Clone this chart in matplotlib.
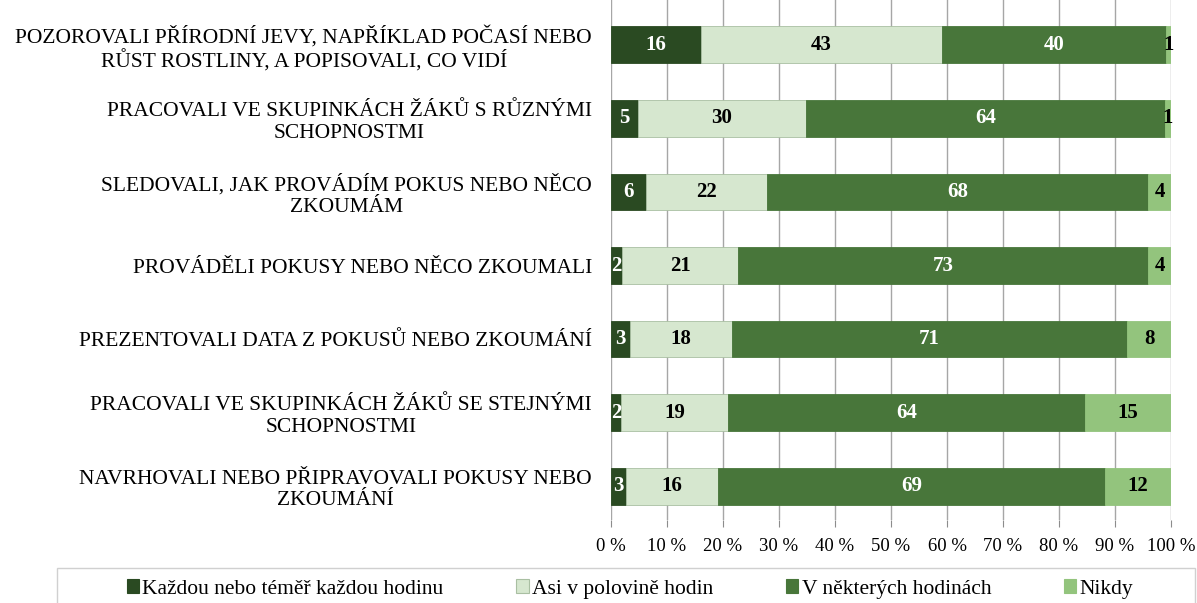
import matplotlib
matplotlib.use("Agg")
import matplotlib.pyplot as plt
from matplotlib.patches import Rectangle
import numpy as np

categories = [
    "POZOROVALI PŘÍRODNÍ JEVY, NAPŘÍKLAD POČASÍ NEBO\nRŮST ROSTLINY, A POPISOVALI, CO VIDÍ",
    "PRACOVALI VE SKUPINKÁCH ŽÁKŮ S RŮZNÝMI\nSCHOPNOSTMI",
    "SLEDOVALI, JAK PROVÁDÍM POKUS NEBO NĚCO\nZKOUMÁM",
    "PROVÁDĚLI POKUSY NEBO NĚCO ZKOUMALI",
    "PREZENTOVALI DATA Z POKUSŮ NEBO ZKOUMÁNÍ",
    "PRACOVALI VE SKUPINKÁCH ŽÁKŮ SE STEJNÝMI\nSCHOPNOSTMI",
    "NAVRHOVALI NEBO PŘIPRAVOVALI POKUSY NEBO\nZKOUMÁNÍ",
]
series_names = ["Každou nebo téměř každou hodinu", "Asi v polovině hodin",
                "V některých hodinách", "Nikdy"]
kazdou = [16.1, 4.8, 6.2, 2.0, 3.4, 1.8, 2.7]
polovina = [43.0, 30.0, 21.7, 20.7, 18.2, 19.1, 16.4]
nekterych = [40.0, 64.1, 68.0, 73.2, 70.6, 63.7, 69.1]
nikdy = [0.9, 1.1, 4.1, 4.1, 7.8, 15.4, 11.8]
xtick_labels = ["0 %", "10 %", "20 %", "30 %", "40 %", "50 %", "60 %",
                "70 %", "80 %", "90 %", "100 %"]

colors = ["#2a4a22", "#d6e7cf", "#48763a", "#93c47d"]
edge_colors = ["#2a4a22", "#a9bfa2", "#48763a", "#93c47d"]
text_colors = ["white", "black", "white", "black"]

plt.rcParams['font.family'] = ['Liberation Serif', 'DejaVu Serif']

fig = plt.figure(figsize=(11.97, 6.03), dpi=100)
ax = fig.add_axes([611/1197, 1 - 520/603, (1171-611)/1197, 520/603])

y = np.arange(len(categories))
left = np.zeros(len(categories))
series = [kazdou, polovina, nekterych, nikdy]
for vals, col, ecol, tcol, name in zip(series, colors, edge_colors, text_colors, series_names):
    vals = np.array(vals)
    ax.barh(y, vals, left=left, height=0.5, color=col, label=name,
            edgecolor=ecol, linewidth=0.6, zorder=3)
    for yi, l, v in zip(y, left, vals):
        ax.text(l + v / 2, yi, f"{round(v):d}", ha="center", va="center",
                color=tcol, fontsize=15, fontweight="bold", zorder=4)
    left += vals

ax.set_xlim(0, 100)
ax.set_ylim(6.46, -0.61)
ax.set_xticks(np.arange(0, 101, 10))
ax.set_xticklabels(xtick_labels, fontsize=13.5)
ax.set_yticks(y)
ax.set_yticklabels(categories, fontsize=15.5, multialignment="center",
                   linespacing=1.2)
ax.tick_params(axis="y", length=0, pad=13.7)
ax.tick_params(axis="x", length=5, color="#8c8c8c", pad=8)
ax.grid(axis="x", color="#a6a6a6", linewidth=1, zorder=0)
for s in ax.spines.values():
    s.set_visible(False)

# legend frame
fig.patches.append(Rectangle((57/1197, -0.02), (1195-57)/1197, (603-568)/603 + 0.02,
                             transform=fig.transFigure, fill=False,
                             edgecolor="#d0d0d0", linewidth=1))
handles = [Rectangle((0, 0), 1, 1, facecolor=c, edgecolor=e, linewidth=0.8)
           for c, e in zip(colors, edge_colors)]
fig.legend(handles, series_names, loc="center", bbox_to_anchor=(630/1197, 1 - 589/603),
           ncol=4, frameon=False, fontsize=15.5, handlelength=0.56, handleheight=0.56,
           handletextpad=0.15, columnspacing=3.4, borderpad=0)

fig.savefig("out.png", dpi=100)
